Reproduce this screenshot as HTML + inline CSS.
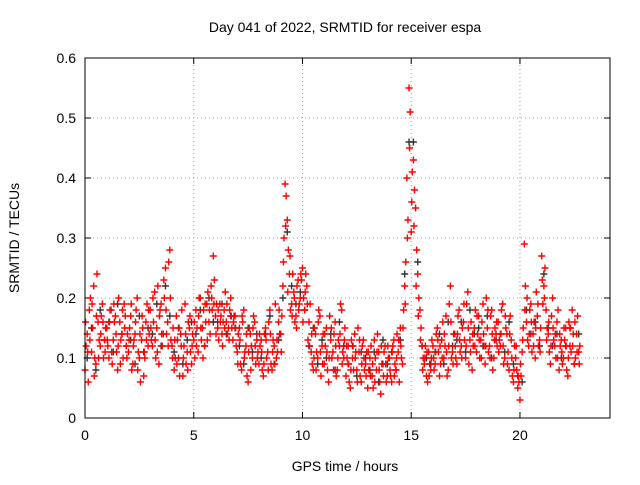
<!DOCTYPE html>
<html><head><meta charset="utf-8"><style>
body{margin:0;background:#fff;}
svg{font-family:"Liberation Sans",sans-serif;}
</style></head><body>
<svg id="chart" width="640" height="480" viewBox="0 0 640 480" xmlns="http://www.w3.org/2000/svg">
<rect width="640" height="480" fill="#fff"/>
<text x="345" y="32" font-size="14" text-anchor="middle">Day 041 of 2022, SRMTID for receiver espa</text>
<text transform="translate(19,238) rotate(-90)" font-size="14" text-anchor="middle">SRMTID / TECUs</text>
<text x="345" y="471" font-size="14" text-anchor="middle">GPS time / hours</text>
<g id="grid"></g><g id="ticks"></g><g id="marks"></g>
<rect x="85" y="58" width="525" height="360" fill="none" stroke="#000" stroke-width="1"/>
</svg>
<script>
const xTicks=[0,5,10,15,20];
const yTicks=[0,0.1,0.2,0.3,0.4,0.5,0.6];
const yTickLabels=["0","0.1","0.2","0.3","0.4","0.5","0.6"];
const redA=[.08,.14,.18,.11,.22,.09,.16,.12,.19,.13,
.15,.10,.18,.13,.17,.08,.16,.14,.19,.12,
.11,.17,.09,.14,.20,.10,.13,.07,.16,.12,
.18,.12,.21,.15,.09,.19,.14,.25,.16,.28,
.12,.08,.17,.10,.14,.07,.19,.11,.15,.09,
.13,.18,.11,.20,.15,.12,.19,.16,.22,.27,
.17,.15,.19,.14,.18,.16,.15,.20,.13,.17,
.11,.15,.08,.18,.12,.06,.14,.10,.16,.13,
.09,.13,.07,.15,.11,.18,.08,.12,.10,.16,
.14,.22,.39,.33,.24,.19,.21,.17,.23,.20,
.25,.18,.22,.16,.11,.08,.14,.10,.17,.12,
.09,.15,.06,.13,.11,.16,.08,.12,.18,.10,
.07,.12,.05,.10,.14,.08,.11,.06,.13,.09,
.05,.10,.07,.13,.08,.11,.04,.09,.12,.07,
.10,.06,.13,.08,.11,.15,.09,.22,.40,.55,
.31,.43,.35,.24,.18,.12,.09,.07,.11,.08,
.12,.09,.15,.07,.13,.10,.17,.08,.22,.11,
.14,.09,.18,.12,.16,.10,.21,.13,.08,.15,
.11,.17,.13,.19,.09,.15,.12,.18,.10,.14,
.16,.12,.19,.10,.14,.08,.13,.06,.10,.05,
.03,.11,.29,.16,.12,.19,.14,.10,.17,.13,
.27,.22,.18,.14,.09,.20,.12,.16,.08,.13,
.10,.15,.07,.12,.18,.09,.14,.11];
const redB=[.12,.06,.20,.15,.10,.24,.13,.17,.10,.15,
.12,.18,.09,.16,.11,.20,.13,.10,.17,.14,
.15,.08,.13,.18,.11,.06,.15,.10,.19,.14,
.13,.16,.10,.22,.18,.12,.20,.14,.26,.13,
.15,.10,.13,.07,.18,.12,.09,.16,.11,.14,
.10,.15,.20,.13,.18,.16,.21,.14,.18,.23,
.19,.13,.17,.16,.21,.14,.18,.15,.17,.12,
.14,.09,.16,.11,.07,.15,.12,.17,.09,.11,
.12,.08,.14,.10,.16,.09,.13,.19,.11,.14,
.17,.30,.37,.28,.18,.24,.16,.22,.19,.23,
.20,.24,.13,.19,.09,.15,.11,.18,.07,.14,
.12,.08,.17,.10,.14,.07,.13,.19,.11,.15,
.10,.06,.13,.08,.11,.15,.07,.12,.08,.11,
.08,.12,.05,.10,.14,.06,.09,.11,.06,.10,
.07,.12,.09,.14,.06,.10,.18,.26,.33,.51,
.41,.38,.28,.20,.15,.10,.12,.06,.09,.13,
.08,.14,.11,.09,.16,.12,.07,.19,.10,.14,
.10,.17,.11,.15,.13,.19,.09,.16,.12,.18,
.14,.10,.16,.12,.20,.11,.17,.08,.15,.12,
.13,.18,.09,.15,.11,.17,.07,.12,.08,.06,
.07,.15,.22,.13,.18,.11,.16,.21,.12,.15,
.19,.25,.15,.11,.17,.13,.10,.18,.12,.09,
.13,.08,.16,.11,.14,.10,.17,.12];
const redC=[.16,.11,.13,.19,.07,.17,.10,.14,.16,.11,
.13,.16,.11,.19,.14,.12,.09,.18,.15,.10,
.13,.19,.12,.16,.08,.14,.17,.11,.13,.18,
.15,.20,.13,.11,.17,.14,.23,.18,.12,.20,
.10,.13,.09,.15,.12,.10,.14,.08,.17,.12,
.16,.12,.17,.15,.10,.19,.13,.18,.20,.19,
.14,.18,.16,.12,.15,.19,.13,.17,.16,.15,
.09,.13,.17,.10,.14,.11,.08,.15,.12,.10,
.14,.11,.09,.13,.08,.14,.11,.09,.13,.18,
.11,.26,.32,.21,.27,.17,.20,.15,.18,.24,
.16,.21,.19,.12,.14,.10,.08,.16,.11,.09,
.14,.11,.10,.15,.08,.12,.10,.14,.09,.13,
.12,.09,.08,.12,.10,.06,.13,.09,.10,.07,
.11,.07,.09,.06,.11,.08,.12,.07,.09,.12,
.08,.11,.07,.10,.13,.12,.15,.19,.30,.45,
.36,.32,.22,.17,.13,.08,.10,.11,.07,.10,
.10,.11,.13,.12,.10,.14,.11,.12,.16,.09,
.12,.14,.13,.10,.19,.12,.15,.11,.14,.12,
.17,.13,.10,.14,.12,.18,.10,.14,.13,.16,
.11,.14,.12,.17,.09,.14,.10,.08,.12,.07,
.09,.13,.18,.20,.14,.16,.12,.15,.19,.11,
.23,.20,.13,.16,.12,.15,.14,.10,.14,.11,
.15,.12,.10,.15,.12,.16,.11,.09];
const black=[.10,.15,.08,.18,.13,.16,.11,.19,.14,.12,
.13,.09,.17,.11,.15,.14,.19,.12,.22,.17,
.11,.15,.09,.13,.16,.14,.18,.12,.20,.16,
.16,.19,.14,.17,.15,.12,.09,.15,.11,.14,
.10,.14,.17,.09,.13,.20,.31,.22,.19,.21,
.18,.12,.15,.09,.13,.10,.14,.08,.16,.12,
.09,.12,.07,.11,.10,.08,.11,.06,.13,.09,
.11,.08,.13,.24,.46,.46,.26,.12,.10,.09,
.11,.14,.09,.16,.12,.13,.16,.11,.18,.14,
.15,.12,.17,.10,.13,.14,.11,.16,.09,.07,
.06,.18,.14,.16,.12,.24,.15,.12,.14,.10,
.12,.15,.09,.14];
const X0=85,X1=610,XMAX=24.14,Y0=418,Y1=58,YMAX=0.6;
const xs=v=>X0+(X1-X0)*v/XMAX, ys=v=>Y0-(Y0-Y1)*v/YMAX;
const NS="http://www.w3.org/2000/svg";
function mk(tag,attrs,parent){const e=document.createElementNS(NS,tag);for(const k in attrs)e.setAttribute(k,attrs[k]);parent.appendChild(e);return e;}
const grid=document.getElementById('grid'),ticks=document.getElementById('ticks'),marks=document.getElementById('marks');
yTicks.forEach((v,i)=>{const y=ys(v);
 if(i>0&&i<yTicks.length-1){const g=mk('line',{x1:X0,x2:X1,y1:y,y2:y,stroke:'#a0a0a0','stroke-dasharray':'1,3'},grid);
 
 }
 mk('line',{x1:X0,x2:X0+6,y1:y,y2:y,stroke:'#000'},ticks);mk('line',{x1:X1,x2:X1-6,y1:y,y2:y,stroke:'#000'},ticks);
 const t=mk('text',{x:X0-9,y:y+5,'font-size':14,'text-anchor':'end'},ticks);t.textContent=yTickLabels[i];
 
 });
xTicks.forEach(v=>{const x=xs(v);
 if(v>0){const g=mk('line',{x1:x,x2:x,y1:Y0,y2:Y1,stroke:'#a0a0a0','stroke-dasharray':'1,3'},grid);
 
 }
 mk('line',{x1:x,x2:x,y1:Y0,y2:Y0-6,stroke:'#000'},ticks);mk('line',{x1:x,x2:x,y1:Y1,y2:Y1+6,stroke:'#000'},ticks);
 const t=mk('text',{x:x,y:Y0+22,'font-size':14,'text-anchor':'middle'},ticks);t.textContent=String(v);
 
 });
function plus(t,v,color,name){const x=xs(t),y=ys(v);
 const p=mk('path',{d:`M${x-3.5},${y}H${x+3.5}M${x},${y-3.5}V${y+3.5}`,stroke:color,'stroke-width':1.4,fill:'none'},marks);
 
 }
black.forEach((v,i)=>plus(0.1+0.2*i,v,'#333','black-point'));
redA.forEach((v,i)=>plus(0.1*i,v,'#ff0000','red-point'));
redB.forEach((v,i)=>plus(0.05+0.1*i,v,'#ff0000','red-point'));
redC.forEach((v,i)=>plus(0.025+0.1*i,v,'#ff0000','red-point'));
</script>
</body></html>
